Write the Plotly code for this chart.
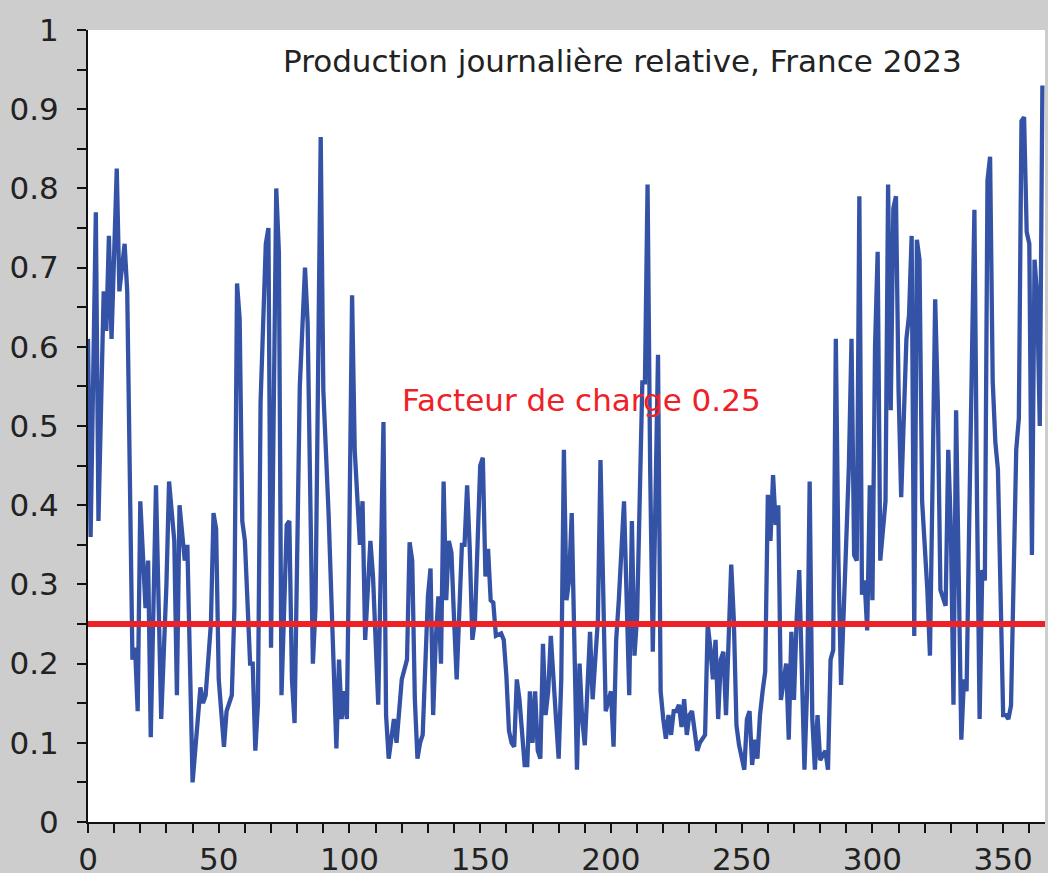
import plotly.graph_objects as go

# Day of year (sampled where the curve turns) and relative daily production
days = [0, 1, 3, 4, 6, 7, 8, 9, 11, 12, 14, 15, 17, 18, 19, 20, 22, 23, 24, 26,
        28, 30, 31, 33, 34, 35, 37, 38, 40, 41, 43, 44, 45, 47, 48, 49, 50, 52, 53, 55,
        56, 57, 58, 59, 60, 62, 63, 64, 65, 66, 68, 69, 70, 72, 73, 74, 76, 77, 78, 79,
        81, 83, 84, 86, 87, 89, 90, 92, 95, 96, 97, 98, 99, 100, 101, 102, 104, 105, 106, 108,
        109, 111, 113, 114, 115, 117, 118, 120, 122, 123, 124, 125, 126, 127, 128, 130, 131, 132, 133, 134,
        135, 136, 137, 138, 139, 140, 141, 143, 144, 145, 146, 147, 148, 150, 151, 152, 153, 154, 155, 156,
        158, 159, 160, 161, 162, 163, 164, 165, 167, 168, 169, 170, 171, 172, 173, 174, 175, 176, 177, 179,
        180, 181, 182, 183, 184, 185, 187, 188, 189, 190, 192, 193, 195, 196, 197, 198, 200, 201, 202, 203,
        205, 206, 207, 208, 209, 210, 212, 213, 214, 215, 216, 218, 219, 220, 221, 222, 223, 224, 225, 226,
        227, 228, 229, 230, 231, 233, 234, 236, 237, 238, 239, 240, 241, 242, 243, 244, 246, 247, 248, 249,
        251, 252, 253, 254, 255, 256, 257, 258, 259, 260, 261, 262, 263, 264, 265, 267, 268, 269, 270, 271,
        272, 274, 275, 276, 277, 278, 279, 280, 282, 283, 284, 285, 286, 287, 288, 290, 291, 292, 293, 294,
        295, 296, 297, 298, 299, 300, 301, 302, 303, 305, 306, 307, 308, 309, 310, 311, 313, 314, 315, 316,
        317, 318, 319, 321, 322, 323, 324, 325, 326, 328, 329, 330, 331, 332, 333, 334, 335, 336, 337, 339,
        340, 341, 342, 343, 344, 345, 346, 347, 348, 349, 350, 351, 352, 353, 355, 356, 357, 358, 359, 360,
        361, 362, 363, 364, 365]

production = [0.61, 0.36, 0.77, 0.38, 0.67, 0.62, 0.74, 0.61, 0.825, 0.67, 0.73, 0.67, 0.205, 0.22, 0.14, 0.405, 0.27, 0.33, 0.107, 0.425,
              0.13, 0.30, 0.43, 0.355, 0.16, 0.40, 0.33, 0.35, 0.05, 0.09, 0.17, 0.15, 0.16, 0.25, 0.39, 0.37, 0.18, 0.095, 0.14, 0.16,
              0.27, 0.68, 0.635, 0.38, 0.355, 0.20, 0.20, 0.09, 0.15, 0.53, 0.73, 0.75, 0.22, 0.80, 0.72, 0.16, 0.375, 0.38, 0.18, 0.125,
              0.55, 0.70, 0.63, 0.20, 0.27, 0.865, 0.545, 0.39, 0.093, 0.205, 0.13, 0.165, 0.13, 0.38, 0.665, 0.47, 0.35, 0.405, 0.23, 0.355,
              0.31, 0.148, 0.505, 0.135, 0.08, 0.13, 0.10, 0.18, 0.205, 0.353, 0.33, 0.155, 0.08, 0.10, 0.11, 0.285, 0.32, 0.135, 0.23, 0.285,
              0.20, 0.43, 0.28, 0.355, 0.34, 0.255, 0.18, 0.35, 0.35, 0.425, 0.345, 0.23, 0.255, 0.45, 0.46, 0.31, 0.345, 0.28, 0.277, 0.235,
              0.238, 0.23, 0.185, 0.115, 0.10, 0.095, 0.18, 0.155, 0.072, 0.072, 0.165, 0.10, 0.165, 0.09, 0.08, 0.225, 0.135, 0.165, 0.235, 0.13,
              0.08, 0.18, 0.47, 0.28, 0.305, 0.39, 0.066, 0.20, 0.13, 0.097, 0.24, 0.155, 0.255, 0.457, 0.28, 0.14, 0.165, 0.095, 0.23, 0.28,
              0.405, 0.29, 0.16, 0.38, 0.21, 0.26, 0.555, 0.555, 0.805, 0.445, 0.215, 0.59, 0.165, 0.13, 0.105, 0.135, 0.11, 0.14, 0.14, 0.148,
              0.12, 0.155, 0.11, 0.135, 0.14, 0.09, 0.10, 0.11, 0.25, 0.22, 0.18, 0.23, 0.13, 0.205, 0.215, 0.135, 0.325, 0.255, 0.122, 0.097,
              0.066, 0.13, 0.14, 0.072, 0.104, 0.08, 0.135, 0.165, 0.19, 0.413, 0.355, 0.438, 0.375, 0.40, 0.154, 0.20, 0.104, 0.24, 0.154, 0.255,
              0.318, 0.066, 0.167, 0.43, 0.13, 0.066, 0.135, 0.078, 0.09, 0.066, 0.205, 0.217, 0.61, 0.33, 0.173, 0.356, 0.45, 0.61, 0.337, 0.33,
              0.79, 0.287, 0.305, 0.242, 0.425, 0.28, 0.60, 0.72, 0.33, 0.405, 0.805, 0.52, 0.775, 0.79, 0.545, 0.41, 0.61, 0.64, 0.74, 0.235,
              0.735, 0.71, 0.405, 0.293, 0.21, 0.43, 0.66, 0.53, 0.293, 0.273, 0.47, 0.37, 0.148, 0.52, 0.268, 0.104, 0.18, 0.165, 0.375, 0.773,
              0.405, 0.13, 0.318, 0.305, 0.81, 0.84, 0.557, 0.48, 0.445, 0.25, 0.135, 0.135, 0.13, 0.147, 0.47, 0.51, 0.885, 0.89, 0.745, 0.73,
              0.337, 0.71, 0.665, 0.50, 0.93]

seuil = 0.25
x_ticks = [0, 50, 100, 150, 200, 250, 300, 350]
y_ticks = [0, 0.1, 0.2, 0.3, 0.4, 0.5, 0.6, 0.7, 0.8, 0.9, 1]
y_labels = ["0", "0.1", "0.2", "0.3", "0.4", "0.5", "0.6", "0.7", "0.8", "0.9", "1"]
titre = "Production journalière relative, France 2023"
label_seuil = "Facteur de charge 0.25"

fig = go.Figure()
fig.add_trace(go.Scatter(x=days, y=production, mode="lines",
                         line=dict(color="#3453a6", width=4.3), hoverinfo="skip"))
fig.add_trace(go.Scatter(x=[0, 366], y=[seuil, seuil], mode="lines",
                         line=dict(color="#ee2127", width=6), hoverinfo="skip"))

fig.add_annotation(x=0.558, y=1.0, xref="paper", yref="paper", yshift=-11,
                   text=titre, showarrow=False, xanchor="center", yanchor="top",
                   font=dict(family="DejaVu Sans", size=31, color="#222222"))
fig.add_annotation(x=0.516, y=0.533, xref="paper", yref="y",
                   text=label_seuil, showarrow=False, xanchor="center", yanchor="middle",
                   font=dict(family="DejaVu Sans", size=31, color="#ee2127"))

fig.update_layout(
    width=1048, height=873,
    margin=dict(l=88, r=3, t=30, b=51, autoexpand=False),
    paper_bgcolor="#cdcdcd", plot_bgcolor="#ffffff",
    showlegend=False,
    font=dict(family="DejaVu Sans", size=31, color="#222222"),
)
fig.update_xaxes(range=[0, 366], tickvals=x_ticks, ticktext=[str(t) for t in x_ticks],
                 ticks="outside", ticklen=9, tickwidth=2, tickcolor="#111111",
                 minor=dict(dtick=10, tick0=0, ticks="outside", ticklen=9, tickwidth=2, tickcolor="#111111"),
                 showline=True, linecolor="#111111", linewidth=2, showgrid=False, zeroline=False,
                 automargin=False, tickfont=dict(size=31))
fig.update_yaxes(range=[0, 1], tickvals=y_ticks, ticktext=y_labels,
                 ticks="outside", ticklen=9, tickwidth=2, tickcolor="#111111",
                 minor=dict(dtick=0.05, tick0=0, ticks="outside", ticklen=9, tickwidth=2, tickcolor="#111111"),
                 showline=True, linecolor="#111111", linewidth=2, showgrid=False, zeroline=False,
                 automargin=False, tickfont=dict(size=31), ticklabelstandoff=12)

fig.write_html("out.html", config={"displayModeBar": False},
               post_script="document.body.style.margin='0';document.body.style.overflow='hidden';")
